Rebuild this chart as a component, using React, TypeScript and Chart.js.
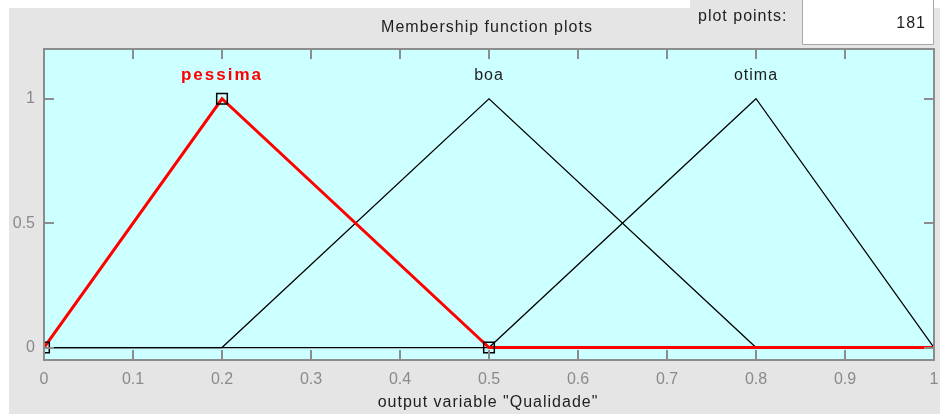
import React, { useEffect, useRef } from "react";
import { Chart, registerables } from "chart.js";

Chart.register(...registerables);

// ---- data ----
const xPessima = [0, 0.2, 0.5, 1];
const yPessima = [0, 1, 0, 0];
const xBoa = [0, 0.2, 0.5, 0.8, 1];
const yBoa = [0, 0, 1, 0, 0];
const xOtima = [0, 0.5, 0.8, 1];
const yOtima = [0, 0, 1, 0];

const mfNames = ["pessima", "boa", "otima"];
const mfPeaks = [0.2, 0.5, 0.8];
const labelLevel = 1.075;

const xTicks = [0, 0.1, 0.2, 0.3, 0.4, 0.5, 0.6, 0.7, 0.8, 0.9, 1];
const xTickLabels = ["0", "0.1", "0.2", "0.3", "0.4", "0.5", "0.6", "0.7", "0.8", "0.9", "1"];
const yTicks = [0, 0.5, 1];
const yTickLabels = ["0", "0.5", "1"];

const chartTitle = "Membership function plots";
const axisTitle = 'output variable "Qualidade"';
const plotPointsLabel = "plot points:";
const plotPointsValue = "181";

const FONT = "'Liberation Sans', Arial, sans-serif";

const toPts = (xs: number[], ys: number[]) => xs.map((x, i) => ({ x, y: ys[i] }));

const decorPlugin = {
  id: "decor",
  beforeDraw(chart: any) {
    const { ctx, chartArea: a } = chart;
    ctx.save();
    ctx.fillStyle = "#ffffff";
    ctx.fillRect(0, 0, 940, 414);
    ctx.fillStyle = "#e5e5e5";
    ctx.fillRect(9, 8, 931, 406);
    ctx.fillRect(690, 0, 112, 8);
    // plot points box
    ctx.fillStyle = "#ffffff";
    ctx.fillRect(802, 0, 131, 44);
    ctx.strokeStyle = "#a8a8a8";
    ctx.lineWidth = 1;
    ctx.beginPath();
    ctx.moveTo(802.5, 0);
    ctx.lineTo(802.5, 44.5);
    ctx.lineTo(933.5, 44.5);
    ctx.lineTo(933.5, 0);
    ctx.stroke();
    // plot background
    ctx.fillStyle = "#ccffff";
    ctx.fillRect(a.left, a.top, a.right - a.left, a.bottom - a.top);
    ctx.restore();
  },
  afterDatasetsDraw(chart: any) {
    const { ctx, chartArea: a, scales } = chart;
    const xs = scales.x;
    const ys = scales.y;
    ctx.save();
    ctx.strokeStyle = "#8c8c8c";
    ctx.lineWidth = 2;
    ctx.strokeRect(a.left, a.top, a.right - a.left, a.bottom - a.top);
    const tl = 10;
    ctx.beginPath();
    xTicks.forEach((v) => {
      const px = Math.round(xs.getPixelForValue(v));
      ctx.moveTo(px, a.bottom);
      ctx.lineTo(px, a.bottom - tl);
      ctx.moveTo(px, a.top);
      ctx.lineTo(px, a.top + tl);
    });
    yTicks.forEach((v) => {
      const py = Math.round(ys.getPixelForValue(v));
      ctx.moveTo(a.left, py);
      ctx.lineTo(a.left + tl, py);
      ctx.moveTo(a.right, py);
      ctx.lineTo(a.right - tl, py);
    });
    ctx.stroke();
    // x tick labels
    ctx.fillStyle = "#8a8a8a";
    ctx.font = `16px ${FONT}`;
    ctx.textAlign = "center";
    ctx.textBaseline = "alphabetic";
    xTicks.forEach((v, i) => {
      ctx.fillText(xTickLabels[i], xs.getPixelForValue(v), a.bottom + 24);
    });
    ctx.restore();
  },
  afterDraw(chart: any) {
    const { ctx, scales } = chart;
    const xs = scales.x;
    const ys = scales.y;
    ctx.save();
    (ctx as any).letterSpacing = "1px";
    ctx.textBaseline = "alphabetic";
    ctx.fillStyle = "#1e1e1e";
    ctx.font = `16px ${FONT}`;
    ctx.textAlign = "center";
    ctx.fillText(chartTitle, 487, 32);
    ctx.fillText(axisTitle, 488, 407);
    ctx.textAlign = "left";
    ctx.fillText(plotPointsLabel, 698, 21);
    ctx.textAlign = "right";
    ctx.fillText(plotPointsValue, 926, 28);
    // MF labels
    ctx.textAlign = "center";
    mfNames.forEach((name, i) => {
      const px = xs.getPixelForValue(mfPeaks[i]);
      const py = ys.getPixelForValue(labelLevel);
      if (i === 0) {
        ctx.font = `bold 17px ${FONT}`;
        (ctx as any).letterSpacing = "2px";
        ctx.fillStyle = "#ff0000";
      } else {
        ctx.font = `16px ${FONT}`;
        (ctx as any).letterSpacing = "1px";
        ctx.fillStyle = "#1e1e1e";
      }
      ctx.fillText(name, px, py);
    });
    ctx.restore();
  },
};

export default function App() {
  const ref = useRef<HTMLCanvasElement | null>(null);
  useEffect(() => {
    if (!ref.current) return;
    const handleR = 7.5;
    const chart = new Chart(ref.current, {
      type: "line",
      data: {
        datasets: [
          {
            label: mfNames[0],
            data: toPts(xPessima, yPessima),
            borderColor: "#ff0000",
            borderWidth: 3,
            pointStyle: "rect",
            pointRadius: [handleR, handleR, handleR, 0],
            pointBorderColor: "#000000",
            pointBorderWidth: 1.5,
            pointBackgroundColor: "rgba(0,0,0,0)",
            tension: 0,
          },
          {
            label: mfNames[1],
            data: toPts(xBoa, yBoa),
            borderColor: "#000000",
            borderWidth: 1.2,
            pointRadius: 0,
            tension: 0,
          },
          {
            label: mfNames[2],
            data: toPts(xOtima, yOtima),
            borderColor: "#000000",
            borderWidth: 1.2,
            pointRadius: 0,
            tension: 0,
          },
        ],
      },
      options: {
        animation: false,
        responsive: false,
        events: [],
        layout: { autoPadding: false, padding: { left: 0, top: 49, right: 6, bottom: 0 } },
        plugins: { legend: { display: false }, tooltip: { enabled: false }, title: { display: false } },
        scales: {
          x: {
            type: "linear",
            min: 0,
            max: 1,
            grid: { display: false, drawTicks: false },
            border: { display: false },
            afterBuildTicks: (s: any) => {
              s.ticks = xTicks.map((v) => ({ value: v }));
            },
            afterFit: (s: any) => {
              s.height = 54;
              s.paddingLeft = 0;
              s.paddingRight = 0;
            },
            ticks: { display: false },
          },
          y: {
            type: "linear",
            min: -0.05,
            max: 1.2,
            grid: { display: false, drawTicks: false },
            border: { display: false },
            afterBuildTicks: (s: any) => {
              s.ticks = yTicks.map((v) => ({ value: v }));
            },
            afterFit: (s: any) => {
              s.width = 44;
              s.paddingTop = 0;
              s.paddingBottom = 0;
            },
            ticks: {
              autoSkip: false,
              padding: 9,
              color: "#8a8a8a",
              font: { family: FONT, size: 16 },
              callback: (_v: any, i: number) => yTickLabels[i],
            },
          },
        },
      },
      plugins: [decorPlugin],
    });
    return () => chart.destroy();
  }, []);
  return (
    <div style={{ position: "fixed", left: 0, top: 0, width: 940, height: 414 }}>
      <canvas ref={ref} width={940} height={414} style={{ display: "block" }} />
    </div>
  );
}
